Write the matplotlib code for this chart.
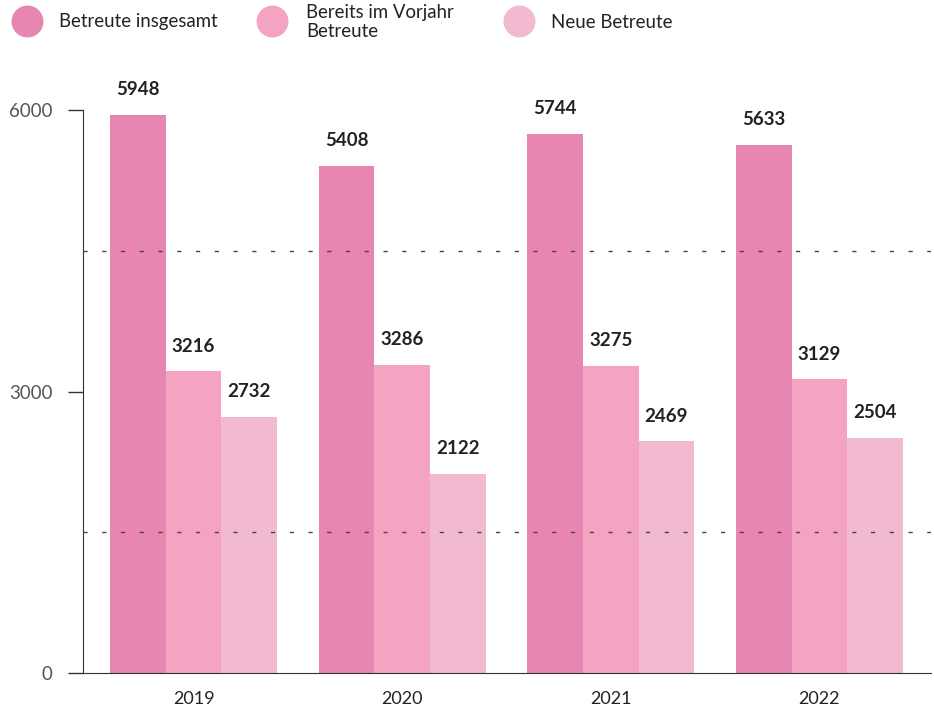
import numpy as np
import matplotlib
matplotlib.use("Agg")
import matplotlib.pyplot as plt
from matplotlib.lines import Line2D

# ── Data ──────────────────────────────────────────────────────────────────────
YEARS      = ["2019", "2020", "2021", "2022"]
TOTAL      = [5948, 5408, 5744, 5633]
PREV_YEAR  = [3216, 3286, 3275, 3129]
NEW        = [2732, 2122, 2469, 2504]
SERIES     = ["Betreute insgesamt", "Bereits im Vorjahr\nBetreute", "Neue Betreute"]
COLORS     = ["#E686B1", "#F4A4C2", "#F2BAD0"]
Y_TICKS    = [0, 3000, 6000]
GRID_LINES = [1500, 4500]

plt.rcParams["font.family"] = ["Lato", "DejaVu Sans"]

W, H = 934, 711
fig = plt.figure(figsize=(W / 100, H / 100), dpi=100)
ax = fig.add_axes([83 / W, 38 / H, (931 - 83) / W, (673 - 82) / H])

x = np.arange(len(YEARS))
width = 0.267
for i, (vals, color) in enumerate(zip([TOTAL, PREV_YEAR, NEW], COLORS)):
    bars = ax.bar(x + (i - 1) * width, vals, width, color=color, zorder=2)
    for bar, v in zip(bars, vals):
        ax.annotate(f"{v}", (bar.get_x() + bar.get_width() / 2, v),
                    xytext=(0, 12), textcoords="offset points",
                    ha="center", va="bottom", fontsize=13.5, fontweight="bold",
                    color="#222222")

for g in GRID_LINES:
    ax.axhline(g, color="#444444", linewidth=1.0, linestyle=(0, (3, 10.5)), zorder=3)

ax.set_xlim(-0.53, 3.535)
ax.set_ylim(0, 6300)
ax.set_yticks(Y_TICKS)
ax.set_yticklabels([str(t) for t in Y_TICKS], color="#555555", fontsize=13.5)
ax.tick_params(axis="y", length=11, width=1, color="#333333", pad=11)
ax.set_xticks(x)
ax.set_xticklabels(YEARS, fontsize=13, color="#222222")
ax.tick_params(axis="x", length=0, pad=13)

for s in ["top", "right"]:
    ax.spines[s].set_visible(False)
ax.spines["left"].set_bounds(0, 6000)
ax.spines["left"].set_color("#333333")
ax.spines["bottom"].set_color("#333333")

# ── Legend ────────────────────────────────────────────────────────────────────
leg_ax = fig.add_axes([0, 0, 1, 1])
leg_ax.set_xlim(0, W)
leg_ax.set_ylim(H, 0)
leg_ax.axis("off")
circle_x = [27, 272, 519]
text_x   = [59, 306, 551]
for cx, tx, label, color in zip(circle_x, text_x, SERIES, COLORS):
    leg_ax.add_line(Line2D([cx], [21], marker="o", markersize=23,
                           markerfacecolor=color, markeredgecolor="none"))
    leg_ax.text(tx, 22, label, ha="left", va="center", fontsize=13.4,
                color="#222222", linespacing=1.1)

fig.savefig("out.png", dpi=100)
